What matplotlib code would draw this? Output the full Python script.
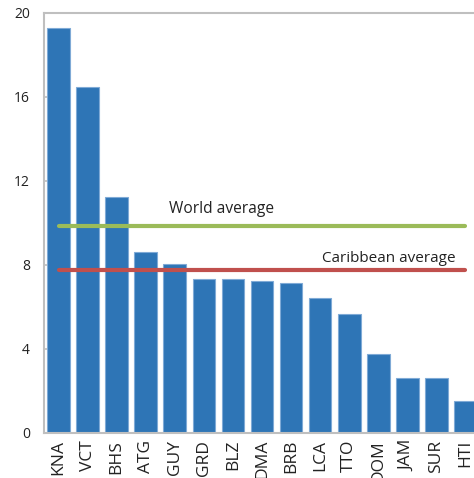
import numpy as np
import matplotlib
matplotlib.use("Agg")
import matplotlib.pyplot as plt

countries = ["KNA", "VCT", "BHS", "ATG", "GUY", "GRD", "BLZ", "DMA",
             "BRB", "LCA", "TTO", "DOM", "JAM", "SUR", "HTI"]
values = [19.3, 16.5, 11.25, 8.6, 8.05, 7.33, 7.33, 7.25,
          7.15, 6.43, 5.67, 3.76, 2.62, 2.62, 1.52]
world_avg = 9.86
carib_avg = 7.76
yticks = [0, 4, 8, 12, 16, 20]

plt.rcParams['font.family'] = ['Open Sans', 'DejaVu Sans']

fig = plt.figure(figsize=(4.74, 4.78), dpi=100)
ax = fig.add_axes([44 / 474, 45 / 478, 436 / 474, 420 / 478])

x = np.arange(len(countries))
ax.bar(x, values, width=0.78, color="#2E75B6", edgecolor="#7FAAD6", linewidth=0.8, zorder=2)

# average lines run from first to last category
ax.plot([x[0], x[-1]], [world_avg] * 2, color="#9BBB59", lw=3, solid_capstyle="round", zorder=3)
ax.plot([x[0], x[-1]], [carib_avg] * 2, color="#C0504D", lw=3, solid_capstyle="round", zorder=3)
ax.text(3.81, 10.67, "World average", fontsize=11.2, color="#222222", va="center", ha="left")
ax.text(9.08, 8.29, "Caribbean average", fontsize=11, color="#222222", va="center", ha="left")

ax.set_xlim(-0.5, len(countries) - 0.5)
ax.set_ylim(0, 20)
ax.set_yticks(yticks)
ax.set_xticks(x)
ax.set_xticklabels(countries, rotation=90, fontsize=12.5, color="#222222")
ax.tick_params(axis="y", direction="in", length=6, width=1.2, color="#BFBFBF",
               labelsize=10, labelcolor="#222222", pad=10)
ax.tick_params(axis="x", length=0, pad=5)

for side in ["left", "bottom", "top"]:
    ax.spines[side].set_color("#BFBFBF")
    ax.spines[side].set_linewidth(1.5)
ax.spines["right"].set_visible(False)

fig.savefig("out.png", dpi=100)
